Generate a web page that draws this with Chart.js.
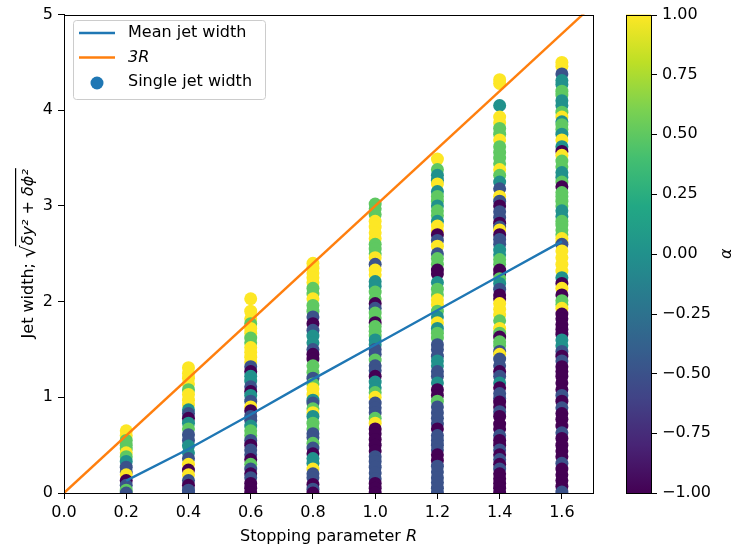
<!DOCTYPE html>
<html>
<head>
<meta charset="utf-8">
<script src="https://cdn.jsdelivr.net/npm/chart.js@4.4.1/dist/chart.umd.min.js"></script>
<style>
  html, body { margin: 0; padding: 0; background: #fff; }
  #wrap { width: 732px; height: 550px; }
</style>
</head>
<body>
<div id="wrap"><canvas id="jetChart" width="732" height="550"></canvas></div>
<script>
// stopping parameter R of each column of points
const stoppingR = [0.2, 0.4, 0.6, 0.8, 1.0, 1.2, 1.4, 1.6];

// single jet widths (w..) and their alpha value (a..), one pair per column
const w02 = [0.65, 0.6, 0.55, 0.5, 0.46, 0.42, 0.38, 0.33, 0.27, 0.22, 0.19, 0.13, 0.08, 0.03, 0.0];
const a02 = [1, 1, 0.5, 0.5, 0.5, 1, 0.5, 0, -0.5, -0.5, 1, -1, -0.5, 0.5, -0.5];

const w04 = [1.31, 1.25, 1.2, 1.14, 1.08, 1.03, 0.97, 0.92, 0.87, 0.83, 0.78, 0.73, 0.67, 0.61, 0.55, 0.49, 0.42, 0.36, 0.3, 0.24, 0.19, 0.13, 0.08, 0.03, 0.0];
const a04 = [1, 1, 1, 1, 0.5, 1, 1, 1, 0, -0.5, -1, 0, 0.5, -0.5, -0.5, 0, 0, -0.5, 1, -1, 1, -0.5, -1, -0.5, -0.5];

const w06 = [2.03, 1.9, 1.82, 1.77, 1.72, 1.67, 1.62, 1.57, 1.52, 1.47, 1.42, 1.37, 1.32, 1.27, 1.22, 1.17, 1.11, 1.06, 1.02, 0.96, 0.9, 0.86, 0.8, 0.76, 0.7, 0.65, 0.6, 0.55, 0.5, 0.45, 0.4, 0.35, 0.3, 0.25, 0.2, 0.16, 0.1, 0.05, 0.0];
const a06 = [1, 1, 1, 0.5, 1, 1, 0.5, 0.5, 1, 1, 1, 1, -0.5, -1, 0, 0, -0.5, -1, 0, -0.5, 1, -1, -0.5, -0.5, 0, 0.5, 0.5, -0.5, -1, -0.5, -0.5, -1, 0.5, -0.5, -1, -0.5, -1, -1, -1];

const w08 = [2.4, 2.35, 2.3, 2.25, 2.2, 2.14, 2.08, 2.03, 1.96, 1.9, 1.84, 1.77, 1.7, 1.64, 1.57, 1.5, 1.45, 1.4, 1.33, 1.26, 1.2, 1.14, 1.09, 1.03, 0.97, 0.94, 0.88, 0.84, 0.8, 0.73, 0.67, 0.62, 0.58, 0.52, 0.47, 0.41, 0.36, 0.31, 0.25, 0.2, 0.16, 0.09, 0.04, 0.0];
const a08 = [1, 1, 1, 1, 1, 0.5, 0.5, 1, 0.5, 0.5, -0.5, -1, -0.5, 0, 0, -0.5, -1, -1, 0.5, 0.5, -0.5, 0.5, 1, 1, 0, -0.5, 0.5, 1, 0, 0.5, 0.5, -0.5, -0.5, 0.5, -0.5, -1, 0, 0, 1, -0.5, -0.5, -1, -0.5, -1];

const w10 = [3.02, 2.97, 2.91, 2.84, 2.78, 2.72, 2.66, 2.6, 2.55, 2.5, 2.46, 2.39, 2.33, 2.28, 2.21, 2.16, 2.1, 2.03, 1.98, 1.93, 1.88, 1.83, 1.78, 1.74, 1.69, 1.64, 1.6, 1.55, 1.5, 1.45, 1.39, 1.33, 1.28, 1.22, 1.16, 1.1, 1.05, 1.0, 0.94, 0.89, 0.84, 0.78, 0.73, 0.67, 0.62, 0.56, 0.5, 0.44, 0.38, 0.33, 0.27, 0.21, 0.15, 0.1, 0.05, 0.0];
const a10 = [0.5, 0.5, 0.5, 1, 1, 1, 1, 0.5, 0.5, 0.5, 1, -0.5, 1, 1, 0, 0, 0.5, 0.5, -1, -0.5, 0.5, 0.5, -1, 0.5, 0.5, 0.5, 0, 0, -0.5, -0.5, 0.5, -0.5, -0.5, -1, 0, 0, 0.5, 1, -0.5, -0.5, -0.5, 0.5, 1, -1, -1, -1, -1, -1, -0.5, -0.5, -0.5, -0.5, -0.5, -1, -1, -1];

const w12 = [3.49, 3.38, 3.32, 3.27, 3.23, 3.15, 3.1, 3.05, 3.0, 2.95, 2.9, 2.84, 2.79, 2.74, 2.7, 2.64, 2.58, 2.5, 2.45, 2.39, 2.33, 2.29, 2.2, 2.13, 2.07, 2.02, 1.97, 1.9, 1.84, 1.78, 1.72, 1.67, 1.62, 1.55, 1.5, 1.43, 1.38, 1.33, 1.27, 1.22, 1.15, 1.08, 1.02, 0.96, 0.9, 0.84, 0.78, 0.72, 0.67, 0.6, 0.55, 0.5, 0.45, 0.4, 0.34, 0.28, 0.22, 0.16, 0.11, 0.05, 0.0];
const a12 = [1, 0.5, 0, 0, 1, 0, 0.5, 0.5, 0, 0.5, 0.5, 0, 1, 1, -1, -0.5, 1, -0.5, 0.5, 0.5, -1, -1, 0, 0.5, 0.5, 1, 1, 0.5, 0, 1, 0, 0.5, 0.5, -0.5, -0.5, -0.5, 0, 0, -0.5, -0.5, 0, -1, -1, 0.5, -0.5, -0.5, -0.5, -0.5, -1, -0.5, -0.5, -0.5, -0.5, -1, -1, -0.5, -0.5, -0.5, -0.5, -0.5, -0.5];

const w14 = [4.32, 4.28, 4.05, 3.93, 3.87, 3.81, 3.75, 3.69, 3.62, 3.56, 3.5, 3.44, 3.38, 3.32, 3.25, 3.18, 3.1, 3.05, 3.0, 2.94, 2.88, 2.82, 2.78, 2.75, 2.7, 2.65, 2.6, 2.54, 2.49, 2.44, 2.39, 2.33, 2.29, 2.24, 2.19, 2.13, 2.07, 2.03, 1.98, 1.92, 1.86, 1.8, 1.72, 1.67, 1.63, 1.58, 1.54, 1.48, 1.45, 1.4, 1.33, 1.27, 1.22, 1.15, 1.1, 1.04, 0.99, 0.95, 0.9, 0.85, 0.8, 0.72, 0.67, 0.6, 0.55, 0.5, 0.45, 0.4, 0.35, 0.3, 0.25, 0.2, 0.15, 0.1, 0.05, 0.0];
const a14 = [1, 1, 0, 1, 1, 0.5, 0.5, 1, 0.5, 0.5, 0.5, 0.5, 1, 0.5, 0, -0.5, 1, -0.5, -1, -0.5, -0.5, -1, -0.5, 1, -1, -0.5, -0.5, 0, 0, 0.5, 0.5, -1, -1, 0.5, 0, -0.5, -1, -1, 1, 1, 1, 0.5, 1, 0.5, -1, 0.5, 0.5, -0.5, 1, -0.5, -0.5, -1, -0.5, 0, -1, -0.5, -0.5, -1, -1, -0.5, -1, -1, -1, -0.5, -1, -1, -0.5, -1, -0.5, -1, -0.5, -1, -1, -1, -1, -1];

const w16 = [4.5, 4.46, 4.38, 4.31, 4.27, 4.2, 4.16, 4.1, 4.05, 3.98, 3.93, 3.88, 3.85, 3.8, 3.75, 3.69, 3.62, 3.57, 3.53, 3.47, 3.41, 3.35, 3.3, 3.25, 3.2, 3.14, 3.1, 3.05, 3.0, 2.95, 2.89, 2.84, 2.8, 2.75, 2.7, 2.66, 2.62, 2.6, 2.53, 2.46, 2.39, 2.32, 2.25, 2.19, 2.14, 2.07, 2.01, 1.97, 1.93, 1.87, 1.82, 1.76, 1.71, 1.66, 1.6, 1.54, 1.48, 1.43, 1.38, 1.32, 1.27, 1.22, 1.15, 1.08, 1.02, 0.96, 0.89, 0.83, 0.77, 0.7, 0.63, 0.57, 0.5, 0.44, 0.38, 0.31, 0.25, 0.19, 0.13, 0.07, 0.01];
const a16 = [1, 1, -0.5, 0, 0, 0.5, 0.5, 0, 0, 0.5, 1, 0, 0.5, 0.5, 0, 1, 0, -1, 1, 0.5, 0.5, 0, 0, 0.5, -1, 0.5, 0.5, 0.5, 0.5, 0, 0, 0.5, 0.5, 0.5, 0.5, 1, 1, -0.5, 1, 1, 1, 1, 0, -1, 1, -1, 0.5, 0.5, 1, -1, -1, -1, -1, -1, 0, 0, -0.5, -1, -0.5, -1, -1, -1, -1, -1, -0.5, -1, -0.5, -1, -1, -1, -0.5, -1, -1, -1, -1, -0.5, -1, -1, -1, -1, -0.5];

// mean jet width per column, and the 3R reference line
const meanWidth = [0.13, 0.46, 0.82, 1.19, 1.55, 1.91, 2.27, 2.63];
const lineR = [0, 1.7];
const line3R = [0, 5.1];

// tick labels
const xTicks = [0.0, 0.2, 0.4, 0.6, 0.8, 1.0, 1.2, 1.4, 1.6];
const yTicks = [0, 1, 2, 3, 4, 5];
const cbTicks = [-1.0, -0.75, -0.5, -0.25, 0.0, 0.25, 0.5, 0.75, 1.0];

const widthCols = [w02, w04, w06, w08, w10, w12, w14, w16];
const alphaCols = [a02, a04, a06, a08, a10, a12, a14, a16];

// viridis, sampled at 11 stops
const viridis = ['#440154', '#482475', '#414487', '#355f8d', '#2a788e', '#21918c',
  '#22a884', '#44bf70', '#7ad151', '#bddf26', '#fde725'];

function hexToRgb(h) {
  return [parseInt(h.slice(1, 3), 16), parseInt(h.slice(3, 5), 16), parseInt(h.slice(5, 7), 16)];
}

function alphaColor(a) {
  const t = Math.min(1, Math.max(0, (a + 1) / 2)) * (viridis.length - 1);
  const i = Math.min(viridis.length - 2, Math.floor(t));
  const f = t - i;
  const c0 = hexToRgb(viridis[i]), c1 = hexToRgb(viridis[i + 1]);
  const c = c0.map((v, k) => Math.round(v + (c1[k] - v) * f));
  return 'rgb(' + c.join(',') + ')';
}

const scatterPoints = [];
stoppingR.forEach(function (r, i) {
  widthCols[i].forEach(function (w, j) {
    scatterPoints.push({ x: r, y: w, a: alphaCols[i][j] });
  });
});

const FONT = '"DejaVu Sans", sans-serif';

// frame around the axes plus the colorbar to the right
const frameAndColorbar = {
  id: 'frameAndColorbar',
  afterDraw(chart) {
    const ctx = chart.ctx;
    const area = chart.chartArea;
    const cb = chart.scales.cb;
    ctx.save();
    ctx.strokeStyle = '#000';
    ctx.lineWidth = 1;
    ctx.strokeRect(Math.round(area.left) + 0.5, Math.round(area.top) + 0.5,
      Math.round(area.right - area.left), Math.round(area.bottom - area.top));

    const x0 = Math.round(area.right) + 33;
    const barW = 25;
    const yTop = cb.getPixelForValue(1);
    const yBot = cb.getPixelForValue(-1);
    const grad = ctx.createLinearGradient(0, yBot, 0, yTop);
    viridis.forEach(function (c, i) { grad.addColorStop(i / (viridis.length - 1), c); });
    ctx.fillStyle = grad;
    ctx.fillRect(x0, yTop, barW, yBot - yTop);
    ctx.strokeRect(x0 + 0.5, Math.round(yTop) + 0.5, barW, Math.round(yBot - yTop));
    cb.ticks.forEach(function (t) {
      const y = Math.round(cb.getPixelForValue(t.value)) + 0.5;
      ctx.beginPath();
      ctx.moveTo(x0 + barW, y);
      ctx.lineTo(x0 + barW + 6, y);
      ctx.stroke();
    });

    // colorbar label
    ctx.fillStyle = '#000';
    ctx.font = 'italic 16px ' + FONT;
    ctx.textAlign = 'center';
    ctx.textBaseline = 'alphabetic';
    ctx.translate(731, (yTop + yBot) / 2);
    ctx.rotate(-Math.PI / 2);
    ctx.fillText('α', 0, 0);
    ctx.restore();
  }
};

// axis titles, with the italic R and the square root
const axisTitles = {
  id: 'axisTitles',
  afterDraw(chart) {
    const ctx = chart.ctx;
    const area = chart.chartArea;
    ctx.save();
    ctx.fillStyle = '#000';
    ctx.textBaseline = 'alphabetic';
    ctx.textAlign = 'left';

    const xa = 'Stopping parameter ', xb = 'R';
    ctx.font = '16px ' + FONT;
    const wa = ctx.measureText(xa).width;
    ctx.font = 'italic 16px ' + FONT;
    const wb = ctx.measureText(xb).width;
    let x = (area.left + area.right) / 2 - (wa + wb) / 2;
    ctx.font = '16px ' + FONT;
    ctx.fillText(xa, x, 541);
    ctx.font = 'italic 16px ' + FONT;
    ctx.fillText(xb, x + wa, 541);

    const ya = 'Jet width; ', ys = '√', yr = 'δy² + δϕ²';
    ctx.translate(33, (area.top + area.bottom) / 2);
    ctx.rotate(-Math.PI / 2);
    ctx.font = '16px ' + FONT;
    const w1 = ctx.measureText(ya).width;
    ctx.font = '20px ' + FONT;
    const w2 = ctx.measureText(ys).width;
    ctx.font = 'italic 16px ' + FONT;
    const w3 = ctx.measureText(yr).width;
    x = -(w1 + w2 + w3) / 2;
    ctx.font = '16px ' + FONT;
    ctx.fillText(ya, x, 0);
    x += w1;
    ctx.font = '20px ' + FONT;
    ctx.fillText(ys, x, 2);
    x += w2;
    ctx.fillRect(x - 1, -18, w3 + 2, 1.2);
    ctx.font = 'italic 16px ' + FONT;
    ctx.fillText(yr, x, 0);
    ctx.restore();
  }
};

// matplotlib style legend inside the axes, upper left
const boxLegend = {
  id: 'boxLegend',
  afterDraw(chart) {
    const ctx = chart.ctx;
    const sets = chart.data.datasets;
    const bx = 73, by = 20, bw = 192, bh = 79;
    ctx.save();
    ctx.fillStyle = 'rgba(255,255,255,0.8)';
    ctx.strokeStyle = '#cccccc';
    ctx.lineWidth = 1;
    ctx.beginPath();
    ctx.roundRect(bx + 0.5, by + 0.5, bw, bh, 3);
    ctx.fill();
    ctx.stroke();
    ctx.textBaseline = 'middle';
    ctx.textAlign = 'left';
    sets.forEach(function (ds, i) {
      const y = by + 13 + i * 24.5;
      if (ds.showLine) {
        ctx.strokeStyle = ds.borderColor;
        ctx.lineWidth = 2.4;
        ctx.beginPath();
        ctx.moveTo(bx + 6, y);
        ctx.lineTo(bx + 42, y);
        ctx.stroke();
      } else {
        ctx.fillStyle = '#1f77b4';
        ctx.beginPath();
        ctx.arc(bx + 24, y + 1, 6.5, 0, Math.PI * 2);
        ctx.fill();
      }
      ctx.fillStyle = '#000';
      ctx.font = (ds.label === '3R' ? 'italic ' : '') + '16px ' + FONT;
      ctx.fillText(ds.label, bx + 55, y);
    });
    ctx.restore();
  }
};

new Chart(document.getElementById('jetChart'), {
  type: 'scatter',
  data: {
    datasets: [
      {
        label: 'Mean jet width',
        data: stoppingR.map(function (r, i) { return { x: r, y: meanWidth[i] }; }),
        showLine: true,
        borderColor: '#1f77b4',
        borderWidth: 2.4,
        pointRadius: 0,
        clip: 0
      },
      {
        label: '3R',
        data: lineR.map(function (r, i) { return { x: r, y: line3R[i] }; }),
        showLine: true,
        borderColor: '#ff7f0e',
        borderWidth: 2.4,
        pointRadius: 0,
        clip: 0
      },
      {
        label: 'Single jet width',
        data: scatterPoints,
        pointRadius: 6.5,
        pointBorderWidth: 0,
        pointBackgroundColor: function (c) { return c.raw ? alphaColor(c.raw.a) : '#1f77b4'; },
        pointBorderColor: 'rgba(0,0,0,0)',
        clip: 0
      }
    ]
  },
  options: {
    responsive: false,
    animation: false,
    events: [],
    layout: { autoPadding: false, padding: { top: 12, left: 0, right: 0, bottom: 0 } },
    plugins: {
      legend: { display: false },
      tooltip: { enabled: false }
    },
    scales: {
      x: {
        type: 'linear',
        min: 0,
        max: 1.7,
        afterBuildTicks: function (s) { s.ticks = xTicks.map(function (v) { return { value: v }; }); },
        afterFit: function (s) { s.height = 57; },
        ticks: {
          callback: function (v) { return v.toFixed(1); },
          color: '#000',
          font: { family: FONT, size: 16 },
          padding: 4,
          maxRotation: 0
        },
        grid: { drawOnChartArea: false, tickLength: 6, tickColor: '#000' },
        border: { color: '#000' }
      },
      y: {
        type: 'linear',
        min: 0,
        max: 5,
        afterBuildTicks: function (s) { s.ticks = yTicks.map(function (v) { return { value: v }; }); },
        afterFit: function (s) { s.width = 64; },
        ticks: {
          callback: function (v) { return String(v); },
          color: '#000',
          font: { family: FONT, size: 16 },
          padding: 5
        },
        grid: { drawOnChartArea: false, tickLength: 6, tickColor: '#000' },
        border: { color: '#000' }
      },
      cb: {
        type: 'linear',
        position: 'right',
        min: -1,
        max: 1,
        afterBuildTicks: function (s) { s.ticks = cbTicks.map(function (v) { return { value: v }; }); },
        afterFit: function (s) { s.width = 139; },
        ticks: {
          callback: function (v) { return (v < 0 ? '\u2212' : '') + Math.abs(v).toFixed(2); },
          color: '#000',
          font: { family: FONT, size: 16 },
          padding: 3
        },
        grid: { display: true, drawOnChartArea: false, drawTicks: true, tickLength: 66, tickColor: 'rgba(0,0,0,0)' },
        border: { display: false }
      }
    }
  },
  plugins: [frameAndColorbar, axisTitles, boxLegend]
});
</script>
</body>
</html>
